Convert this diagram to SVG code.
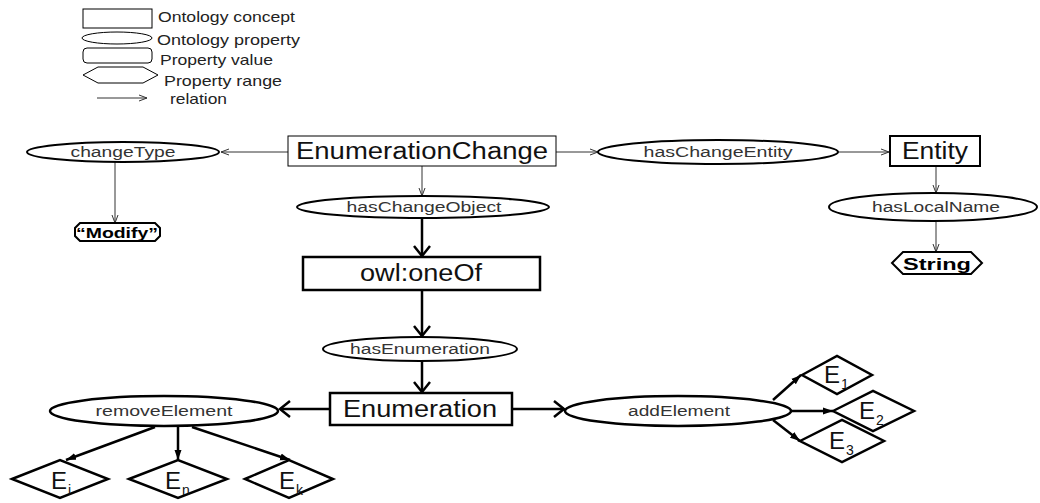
<svg xmlns="http://www.w3.org/2000/svg" width="1040" height="503" viewBox="0 0 1040 503">
<style>
text{font-family:"Liberation Sans",Arial,sans-serif;}
.leg{font-size:15px;fill:#222;}
.lbl{font-size:14px;fill:#333;text-anchor:middle;}
.box{font-size:23px;fill:#111;text-anchor:middle;}
.e{font-size:24px;fill:#111;}
.sub{font-size:14px;fill:#111;}
.thin{stroke:#333;stroke-width:1;fill:none;}
.thick{stroke:#000;stroke-width:2.5;fill:none;}
.shape{fill:#fff;stroke:#000;}
</style>
<defs>
<marker id="aThin" markerUnits="userSpaceOnUse" markerWidth="10" markerHeight="8" refX="9" refY="4" orient="auto">
<path d="M1,1 L9,4 L1,7" fill="none" stroke="#333" stroke-width="1"/>
</marker>
<marker id="aOpen" markerUnits="userSpaceOnUse" markerWidth="14" markerHeight="20" refX="12" refY="10" orient="auto">
<path d="M2,2 L12,10 L2,18" fill="none" stroke="#000" stroke-width="2.5"/>
</marker>
<marker id="aFill" markerUnits="userSpaceOnUse" markerWidth="10" markerHeight="8" refX="10" refY="4" orient="auto">
<path d="M0,0.5 L10,4 L0,7.5 Z" fill="#000"/>
</marker>
</defs>

<g id="legend">
<rect x="83" y="9" width="69" height="19" class="shape" stroke-width="1"/>
<text class="leg" x="158" y="22" textLength="137" lengthAdjust="spacingAndGlyphs">Ontology concept</text>
<ellipse cx="117" cy="38" rx="35" ry="6" class="shape" stroke-width="1"/>
<text class="leg" x="157" y="45" textLength="143" lengthAdjust="spacingAndGlyphs">Ontology property</text>
<rect x="83" y="48" width="69" height="15" rx="4" class="shape" stroke-width="1"/>
<text class="leg" x="160" y="65" textLength="113" lengthAdjust="spacingAndGlyphs">Property value</text>
<path d="M83,75 L98,67 H143 L158,75 L143,83 H98 Z" class="shape" stroke-width="1"/>
<text class="leg" x="164" y="86" textLength="118" lengthAdjust="spacingAndGlyphs">Property range</text>
<line x1="97" y1="98" x2="147" y2="98" class="thin" marker-end="url(#aThin)"/>
<text class="leg" x="170" y="104" textLength="57" lengthAdjust="spacingAndGlyphs">relation</text>
</g>

<g id="connectors">
<line x1="288" y1="152" x2="221" y2="152" class="thin" marker-end="url(#aThin)"/>
<line x1="115" y1="162" x2="115" y2="223" class="thin" marker-end="url(#aThin)"/>
<line x1="556" y1="152" x2="598" y2="152" class="thin" marker-end="url(#aThin)"/>
<line x1="838" y1="152" x2="889" y2="152" class="thin" marker-end="url(#aThin)"/>
<line x1="936" y1="166" x2="936" y2="193" class="thin" marker-end="url(#aThin)"/>
<line x1="936" y1="222" x2="936" y2="252" class="thin" marker-end="url(#aThin)"/>
<line x1="422" y1="166" x2="422" y2="196" class="thin" marker-end="url(#aThin)"/>
<line x1="422" y1="218" x2="422" y2="256" class="thick" marker-end="url(#aOpen)"/>
<line x1="422" y1="290" x2="422" y2="336" class="thick" marker-end="url(#aOpen)"/>
<line x1="422" y1="362" x2="422" y2="392" class="thick" marker-end="url(#aOpen)"/>
<line x1="330" y1="409" x2="280" y2="409" class="thick" marker-end="url(#aOpen)"/>
<line x1="512" y1="409" x2="564" y2="409" class="thick" marker-end="url(#aOpen)"/>
<line x1="155" y1="427" x2="66" y2="460" class="thick" marker-end="url(#aFill)"/>
<line x1="178" y1="427" x2="178" y2="460" class="thick" marker-end="url(#aFill)"/>
<line x1="192" y1="427" x2="290" y2="460" class="thick" marker-end="url(#aFill)"/>
<line x1="773" y1="400" x2="801" y2="375" class="thick" marker-end="url(#aFill)"/>
<line x1="791" y1="411" x2="833" y2="411" class="thick" marker-end="url(#aFill)"/>
<line x1="773" y1="420" x2="800" y2="441" class="thick" marker-end="url(#aFill)"/>
</g>

<g id="EnumerationChange">
<rect x="288" y="136" width="268" height="30" class="shape" stroke-width="1"/>
<text class="box" x="422" y="159" textLength="252" lengthAdjust="spacingAndGlyphs">EnumerationChange</text>
</g>
<g id="changeType">
<ellipse cx="123" cy="152" rx="96" ry="10" class="shape" stroke-width="2"/>
<text class="lbl" x="123" y="157" textLength="105" lengthAdjust="spacingAndGlyphs">changeType</text>
</g>
<g id="Modify">
<path d="M80,223 H155 L160,228 V236 L155,241 H80 L75,236 V228 Z" class="shape" stroke-width="2"/>
<text x="117" y="238" font-size="15" font-weight="bold" text-anchor="middle" textLength="82" lengthAdjust="spacingAndGlyphs">“Modify”</text>
</g>
<g id="hasChangeEntity">
<ellipse cx="718" cy="152" rx="120" ry="12" class="shape" stroke-width="2"/>
<text class="lbl" x="718" y="157" textLength="149" lengthAdjust="spacingAndGlyphs">hasChangeEntity</text>
</g>
<g id="Entity">
<rect x="890" y="136" width="90" height="30" class="shape" stroke-width="2"/>
<text class="box" x="935" y="159" textLength="66" lengthAdjust="spacingAndGlyphs">Entity</text>
</g>
<g id="hasLocalName">
<ellipse cx="933" cy="207" rx="104" ry="14" class="shape" stroke-width="2"/>
<text class="lbl" x="936" y="212" textLength="128" lengthAdjust="spacingAndGlyphs">hasLocalName</text>
</g>
<g id="String">
<path d="M892,263 L903,252 H971 L982,263 L971,274 H903 Z" class="shape" stroke-width="2"/>
<text x="937" y="270" font-size="17" font-weight="bold" text-anchor="middle" textLength="68" lengthAdjust="spacingAndGlyphs">String</text>
</g>
<g id="hasChangeObject">
<ellipse cx="423" cy="207" rx="126" ry="11" class="shape" stroke-width="2"/>
<text class="lbl" x="424" y="212" textLength="155" lengthAdjust="spacingAndGlyphs">hasChangeObject</text>
</g>
<g id="owlOneOf">
<rect x="303" y="257" width="237" height="33" class="shape" stroke-width="2.5"/>
<text class="box" x="421" y="281" textLength="122" lengthAdjust="spacingAndGlyphs">owl:oneOf</text>
</g>
<g id="hasEnumeration">
<ellipse cx="420" cy="349" rx="97" ry="12" class="shape" stroke-width="2"/>
<text class="lbl" x="420" y="354" textLength="140" lengthAdjust="spacingAndGlyphs">hasEnumeration</text>
</g>
<g id="Enumeration">
<rect x="330" y="393" width="182" height="32" class="shape" stroke-width="2.5"/>
<text class="box" x="420" y="417" textLength="154" lengthAdjust="spacingAndGlyphs">Enumeration</text>
</g>
<g id="removeElement">
<ellipse cx="164" cy="411" rx="114" ry="15" class="shape" stroke-width="2.5"/>
<text class="lbl" x="164" y="416" textLength="137" lengthAdjust="spacingAndGlyphs">removeElement</text>
</g>
<g id="addElement">
<ellipse cx="678" cy="411" rx="113" ry="15" class="shape" stroke-width="2.5"/>
<text class="lbl" x="679" y="416" textLength="102" lengthAdjust="spacingAndGlyphs">addElement</text>
</g>
<g id="Ei">
<path d="M12,479 L60,460 L108,479 L60,498 Z" class="shape" stroke-width="2.5"/>
<text class="e" x="51" y="489">E</text><text class="sub" x="68" y="495">i</text>
</g>
<g id="En">
<path d="M129,479 L178,460 L227,479 L178,498 Z" class="shape" stroke-width="2.5"/>
<text class="e" x="165" y="489">E</text><text class="sub" x="182" y="495">n</text>
</g>
<g id="Ek">
<path d="M245,479 L289,460 L333,479 L289,498 Z" class="shape" stroke-width="2.5"/>
<text class="e" x="279" y="489">E</text><text class="sub" x="296" y="495">k</text>
</g>
<g id="E1">
<path d="M802,375 L837,356 L872,375 L837,394 Z" class="shape" stroke-width="2.5"/>
<text class="e" x="824" y="383">E</text><text class="sub" x="841" y="389">1</text>
</g>
<g id="E2">
<path d="M833,411 L873,391 L914,411 L873,431 Z" class="shape" stroke-width="2.5"/>
<text class="e" x="859" y="419">E</text><text class="sub" x="876" y="425">2</text>
</g>
<g id="E3">
<path d="M800,441 L842,420 L884,441 L842,462 Z" class="shape" stroke-width="2.5"/>
<text class="e" x="829" y="449">E</text><text class="sub" x="846" y="455">3</text>
</g>
</svg>
